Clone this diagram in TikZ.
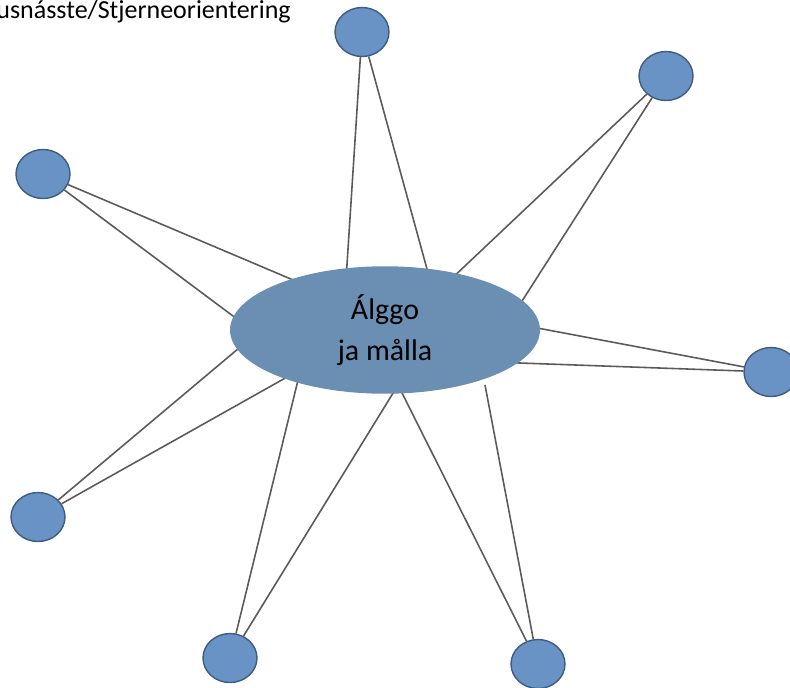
\documentclass[tikz,border=0pt]{standalone}
\usepackage{fontspec}
\setmainfont{Carlito}
\usetikzlibrary{shapes.geometric}
\definecolor{goalblue}{RGB}{106,143,178}
\definecolor{dotblue}{RGB}{104,147,196}
\definecolor{dotedge}{RGB}{62,92,128}
\definecolor{spokegray}{RGB}{90,90,90}
\begin{document}
\begin{tikzpicture}[x=0.02cm, y=-0.02cm,
    dot/.style={ellipse, fill=dotblue, draw=dotedge, line width=0.8pt,
        minimum width=1.08cm, minimum height=0.98cm, inner sep=0pt},
    goal/.style={ellipse, fill=goalblue, minimum width=6.2cm, minimum height=2.55cm,
        inner sep=0pt, align=center, font=\fontsize{17}{23}\selectfont},
    spoke/.style={spokegray, line width=0.9pt}]
    \useasboundingbox (0,0) rectangle (790,687);

    \node[anchor=base west, font=\fontsize{14.8}{17}\selectfont, inner sep=0pt] (title) at (-4,18) {usnásste/Stjerneorientering};

    % the seven points of the star
    \foreach \n/\x/\y in {t/362/32, tr/666/76, r/771/372, br/538/664, b/230/658, bl/38/517, l/43/174}
        \node[dot] (\n) at (\x,\y) {};

    % inner ends, hidden behind the goal
    \coordinate (t1) at (346,280);
    \coordinate (t2) at (430,280);
    \coordinate (tr1) at (448,282);
    \coordinate (tr2) at (515,312);
    \coordinate (r1) at (532,327);
    \coordinate (r2) at (492,362);
    \coordinate (br1) at (485,385);
    \coordinate (br2) at (398,385);
    \coordinate (b1) at (300,372);
    \coordinate (b2) at (398,385);
    \coordinate (bl1) at (245,343);
    \coordinate (bl2) at (296,372);
    \coordinate (l1) at (305,285);
    \coordinate (l2) at (245,325);

    \foreach \n in {t,tr,r,br,b,bl,l} {
        \draw[spoke] (\n) -- (\n1);
        \draw[spoke] (\n) -- (\n2);
    }

    \node[goal] (goalnode) at (385,330) {Álggo\\ja målla};

\end{tikzpicture}
\end{document}
